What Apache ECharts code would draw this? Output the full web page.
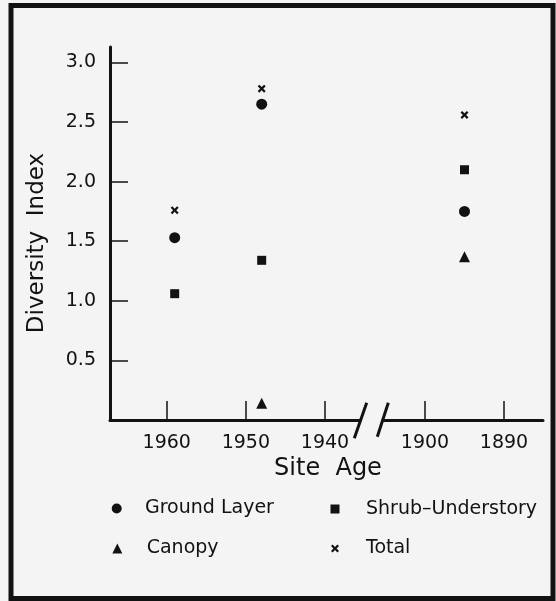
<!DOCTYPE html>
<html>
<head>
<meta charset="utf-8">
<script src="https://cdn.jsdelivr.net/npm/echarts@6/dist/echarts.min.js"></script>
<style>
html,body{margin:0;padding:0;background:#f4f4f4;}
#chart{width:556px;height:601px;}
</style>
</head>
<body>
<div id="chart"></div>
<script>
// ---- data ----
const siteYears = [1959, 1948, 1895];
const groundLayer = [1.53, 2.65, 1.75];
const shrubUnderstory = [1.06, 1.34, 2.10];
const canopy = [null, 0.14, 1.37];
const total = [1.76, 2.78, 2.56];
const seriesNames = ['Ground Layer', 'Shrub\u2013Understory', 'Canopy', 'Total'];
const leftTicks = [1960, 1950, 1940];
const rightTicks = [1900, 1890];
const yTicks = [0.5, 1.0, 1.5, 2.0, 2.5, 3.0];
const leftRange = [1935.57, 1967.18];
const rightRange = [1885.06, 1905.32];
const yMax = 3.13;
const breakYear = 1920;

const INK = '#121212';
const FONT = 'DejaVu Sans';
const xSym = 'path://M0,2 L2,0 L5,3 L8,0 L10,2 L7,5 L10,8 L8,10 L5,7 L2,10 L0,8 L3,5 Z';
const symbols = ['circle', 'rect', 'triangle', xSym];
const sizes = [11, 9, 11, 8];
const values = [groundLayer, shrubUnderstory, canopy, total];

function pairs(vals, right) {
  const out = [];
  siteYears.forEach((yr, i) => {
    if (vals[i] == null) return;
    if ((yr < breakYear) === right) out.push([yr, vals[i]]);
  });
  return out;
}

const series = [];
values.forEach((vals, k) => {
  [false, true].forEach(right => {
    series.push({
      type: 'scatter',
      name: seriesNames[k],
      xAxisIndex: right ? 1 : 0,
      yAxisIndex: right ? 1 : 0,
      symbol: symbols[k],
      symbolSize: sizes[k],
      itemStyle: { color: INK, opacity: 1 },
      emphasis: { disabled: true },
      data: pairs(vals, right)
    });
  });
});

function xAxisCfg(range, ticks, gridIndex) {
  return {
    type: 'value', gridIndex: gridIndex, inverse: true,
    min: range[0], max: range[1],
    axisLine: { show: true, onZero: false, lineStyle: { color: INK, width: 3 } },
    axisTick: { show: true, inside: true, length: 19, customValues: ticks, lineStyle: { color: INK, width: 1.5 } },
    axisLabel: { show: true, customValues: ticks, margin: 14, color: INK, fontFamily: FONT, fontSize: 19, formatter: v => String(v) },
    splitLine: { show: false }
  };
}

// legend icon centre / text start, taken from the reference layout
const legendPos = [
  { left: 111.7, top: 499, s: 10, pad: 18.3 },
  { left: 330.5, top: 499.5, s: 9, pad: 21.5 },
  { left: 112.3, top: 539, s: 10, pad: 19.4 },
  { left: 331, top: 539, s: 8, pad: 22 }
];

const chart = echarts.init(document.getElementById('chart'), null, { renderer: 'canvas' });
chart.setOption({
  backgroundColor: '#f4f4f4',
  animation: false,
  grid: [
    { left: 110, top: 47, width: 250, height: 373, containLabel: false, outerBoundsMode: 'none' },
    { left: 383, top: 47, width: 160, height: 373, containLabel: false, outerBoundsMode: 'none' }
  ],
  xAxis: [xAxisCfg(leftRange, leftTicks, 0), xAxisCfg(rightRange, rightTicks, 1)],
  yAxis: [
    {
      type: 'value', gridIndex: 0, min: 0, max: yMax,
      axisLine: { show: true, lineStyle: { color: INK, width: 3 } },
      axisTick: { show: true, inside: true, length: 18, customValues: yTicks, lineStyle: { color: INK, width: 1.5 } },
      axisLabel: { show: true, customValues: yTicks, margin: 14, color: INK, fontFamily: FONT, fontSize: 19, formatter: v => v.toFixed(1) },
      splitLine: { show: false }
    },
    { type: 'value', gridIndex: 1, min: 0, max: yMax, show: false, splitLine: { show: false } }
  ],
  legend: seriesNames.map((n, k) => ({
    data: [n], left: legendPos[k].left, top: legendPos[k].top,
    itemWidth: legendPos[k].s, itemHeight: legendPos[k].s, padding: 0,
    selectedMode: false,
    itemStyle: { opacity: 1 },
    textStyle: { color: INK, fontFamily: FONT, fontSize: 19, padding: [0, 0, 0, legendPos[k].pad] }
  })),
  graphic: [
    { type: 'rect', shape: { x: 11, y: 5.5, width: 542, height: 593 }, style: { fill: null, stroke: INK, lineWidth: 5 }, silent: true },
    { type: 'line', shape: { x1: 354.3, y1: 438.3, x2: 366.7, y2: 402.7 }, style: { stroke: INK, lineWidth: 3 }, silent: true },
    { type: 'line', shape: { x1: 377.3, y1: 436.7, x2: 388.3, y2: 402.7 }, style: { stroke: INK, lineWidth: 3 }, silent: true },
    { type: 'text', x: 328, y: 469, style: { text: 'Site  Age', fill: INK, font: '24px "DejaVu Sans"', textAlign: 'center', textVerticalAlign: 'middle' }, silent: true },
    { type: 'text', x: 37, y: 243, rotation: Math.PI / 2, style: { text: 'Diversity  Index', fill: INK, font: '23px "DejaVu Sans"', textAlign: 'center', textVerticalAlign: 'middle' }, silent: true }
  ],
  series: series
});
</script>
</body>
</html>
